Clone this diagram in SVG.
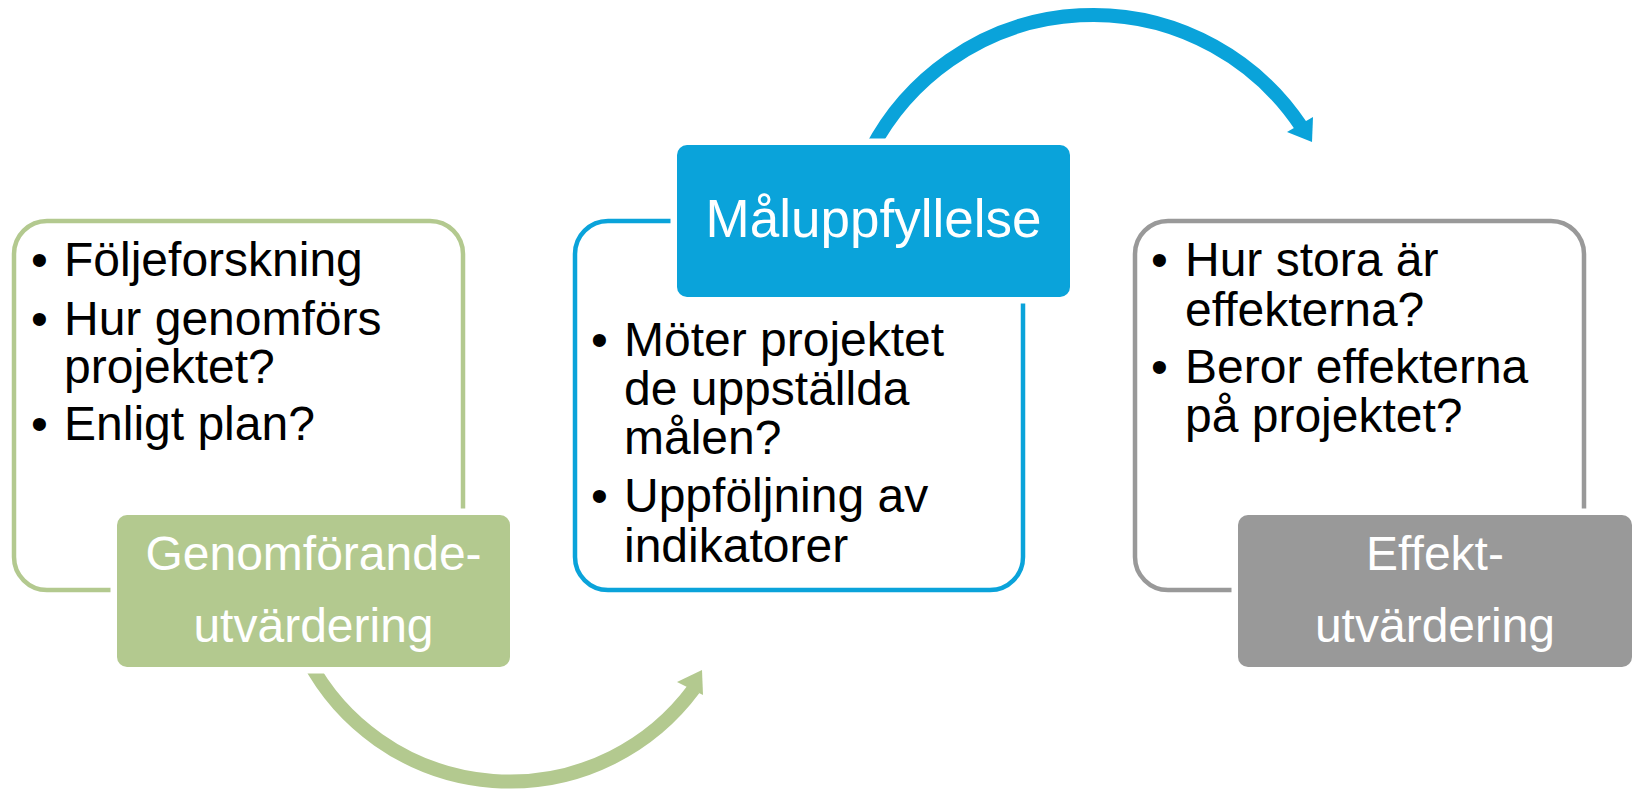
<svg xmlns="http://www.w3.org/2000/svg" width="1637" height="789" viewBox="0 0 1637 789">
<style>
  .t { font-family: "Liberation Sans", Arial, sans-serif; font-size: 48px; fill: #000; }
  .lbl { font-family: "Liberation Sans", Arial, sans-serif; font-size: 48px; fill: #fff; text-anchor: middle; }
  .outer { fill: none; stroke-width: 4.5; }
  .tag { stroke: #fff; stroke-width: 13; paint-order: stroke; }
  .g { stroke: #B3C98F; }
  .b { stroke: #0AA3DA; }
  .y { stroke: #999999; }
</style>
<rect width="1637" height="789" fill="#fff"/>
<g id="connectors">
  <path d="M308,660 A228.6,228.6 0 0 0 693.8,688.9" fill="none" stroke="#B3C98F" stroke-width="14"/>
  <polygon points="677,682 702,670 703,695" fill="#B3C98F"/>
  <path d="M870.8,150 A250.3,250.3 0 0 1 1301.7,127.2" fill="none" stroke="#0AA3DA" stroke-width="14"/>
  <polygon points="1287,132 1313,117 1312,142" fill="#0AA3DA"/>
</g>
<g id="node-genomforande">
  <rect class="outer g" x="14" y="221" width="449" height="369" rx="33"/>
  <rect class="tag" x="117" y="515" width="393" height="152" rx="10" fill="#B3C98F"/>
  <text class="t" x="31" y="276">•</text><text class="t" x="64" y="276">Följeforskning</text>
  <text class="t" x="31" y="335">•</text><text class="t" x="64" y="335">Hur genomförs</text>
  <text class="t" x="64" y="383">projektet?</text>
  <text class="t" x="31" y="440">•</text><text class="t" x="64" y="440">Enligt plan?</text>
  <text class="lbl" x="313.5" y="570">Genomförande-</text>
  <text class="lbl" x="313.5" y="642">utvärdering</text>
</g>
<g id="node-maluppfyllelse">
  <rect class="outer b" x="575" y="221" width="448" height="369" rx="33"/>
  <rect class="tag" x="677" y="145" width="393" height="152" rx="10" fill="#0AA3DA"/>
  <text class="lbl" x="873.5" y="237" style="font-size:53px">Måluppfyllelse</text>
  <text class="t" x="591" y="356">•</text><text class="t" x="624" y="356">Möter projektet</text>
  <text class="t" x="624" y="405">de uppställda</text>
  <text class="t" x="624" y="454">målen?</text>
  <text class="t" x="591" y="512">•</text><text class="t" x="624" y="512">Uppföljning av</text>
  <text class="t" x="624" y="562">indikatorer</text>
</g>
<g id="node-effekt">
  <rect class="outer y" x="1135" y="221" width="449" height="369" rx="33"/>
  <rect class="tag" x="1238" y="515" width="394" height="152" rx="10" fill="#999999"/>
  <text class="t" x="1151" y="276">•</text><text class="t" x="1185" y="276">Hur stora är</text>
  <text class="t" x="1185" y="326">effekterna?</text>
  <text class="t" x="1151" y="383">•</text><text class="t" x="1185" y="383">Beror effekterna</text>
  <text class="t" x="1185" y="432">på projektet?</text>
  <text class="lbl" x="1435" y="570">Effekt-</text>
  <text class="lbl" x="1435" y="642">utvärdering</text>
</g>
</svg>
